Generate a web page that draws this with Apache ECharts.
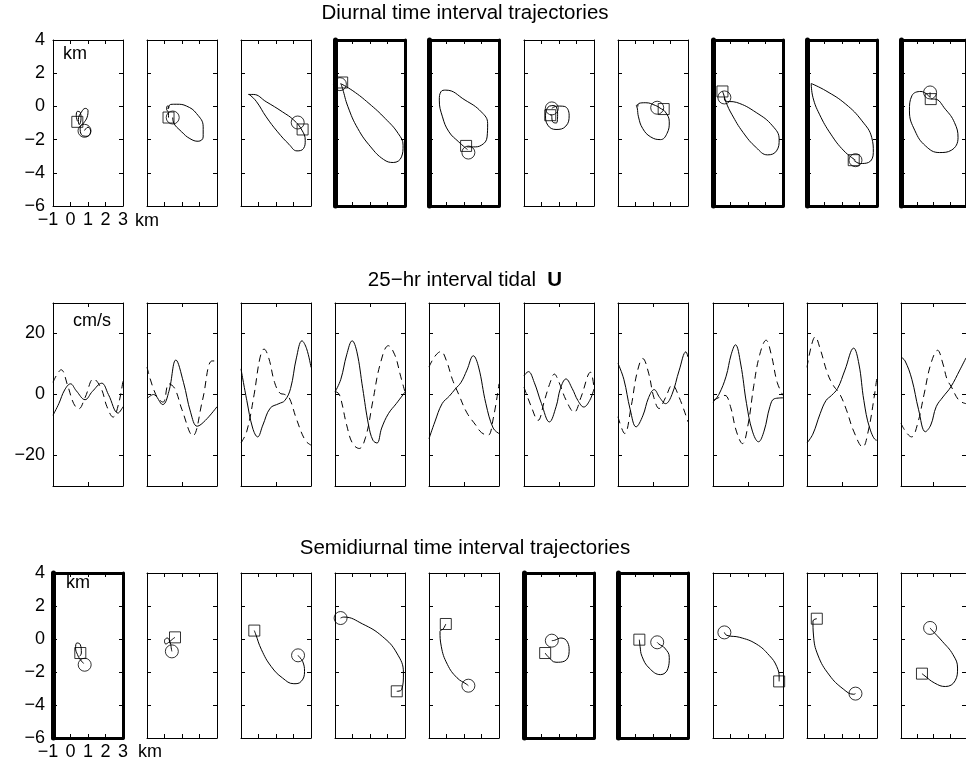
<!DOCTYPE html>
<html><head><meta charset="utf-8">
<script src="https://cdn.jsdelivr.net/npm/echarts@6/dist/echarts.min.js"></script>
<style>html,body{margin:0;padding:0;background:#fff}#c{width:966px;height:770px}</style>
</head><body><div id="c"></div>
<script>
// ---------------- DATA ----------------
const trajXTicks = [-1, 0, 1, 2, 3];
const trajYTicks = [-6, -4, -2, 0, 2, 4];
const tidalYTicks = [-20, 0, 20];

// Diurnal trajectories (km): paths, start circles, end squares
const diurnalPaths = [
  [[0.40,-0.90],[0.33,-0.55],[0.40,-0.30],[0.55,-0.35],[0.60,-0.75],[0.50,-1.10],[0.45,-0.80],[0.62,-0.35],[0.85,-0.12],[1.00,-0.25],[0.95,-0.65],[0.75,-1.00],[0.55,-1.25],[0.62,-1.70],[0.95,-1.80],[1.15,-1.50],[1.00,-1.25],[0.80,-1.45]],
  [[0.23,-0.67],[0.22,-0.35],[0.12,-0.18],[0.16,0.02],[0.26,-0.02],[0.20,-0.15],[0.35,0.12],[0.70,0.13],[1.26,0.02],[1.83,-0.43],[2.21,-1.23],[2.21,-1.84],[1.92,-2.10],[1.45,-1.94],[0.98,-1.53],[0.51,-0.95],[0.47,-0.67]],
  [[-0.57,0.72],[-0.30,0.72],[0.44,0.28],[1.37,-0.33],[2.02,-0.83],[2.48,-1.43],[2.67,-2.04],[2.57,-2.54],[2.20,-2.68],[1.74,-2.28],[1.09,-1.53],[0.44,-0.63],[-0.11,0.28],[-0.48,0.68],[-0.57,0.72]],
  [[-0.69,1.38],[0.02,0.94],[0.94,0.18],[1.87,-0.73],[2.61,-1.63],[2.89,-2.34],[2.80,-3.04],[2.33,-3.38],[1.78,-3.20],[1.04,-2.44],[0.30,-1.33],[-0.26,-0.02],[-0.57,1.08],[-0.66,1.35]],
  [[1.16,-2.44],[1.53,-2.44],[1.99,-2.34],[2.32,-1.84],[2.35,-1.03],[1.99,-0.33],[1.06,0.38],[-0.04,0.98],[-0.32,0.88],[-0.41,0.38],[-0.23,-0.63],[0.14,-1.53],[0.70,-2.14],[1.20,-2.60]],
  [[0.59,-0.12],[0.90,0.02],[1.30,0.00],[1.58,-0.53],[1.39,-1.19],[0.83,-1.39],[0.36,-1.13],[0.23,-0.53],[0.46,0.02],[0.72,0.05],[0.92,-0.40],[0.85,-1.00],[0.65,-0.95],[0.56,-0.50],[0.50,-0.53]],
  [[0.13,-0.02],[0.19,0.18],[0.59,0.22],[1.15,0.05],[1.40,-0.10],[1.70,-0.33],[1.93,-0.93],[1.80,-1.63],[1.43,-2.00],[0.87,-1.84],[0.41,-1.33],[0.17,-0.63],[0.10,-0.10],[0.05,0.05],[0.15,0.10]],
  [[-0.35,0.54],[-0.31,0.34],[0.35,0.24],[1.47,-0.37],[2.40,-1.17],[2.78,-1.98],[2.63,-2.68],[2.12,-2.92],[1.47,-2.48],[0.72,-1.57],[0.07,-0.47],[-0.25,0.24],[-0.40,0.75],[-0.46,0.90]],
  [[1.67,-3.24],[2.05,-3.44],[2.51,-3.38],[2.79,-2.78],[2.70,-1.88],[2.14,-0.87],[1.21,0.14],[0.08,0.94],[-0.76,1.38],[-0.66,0.54],[-0.29,-0.47],[0.36,-1.67],[1.11,-2.68],[1.77,-3.24]],
  [[0.79,0.84],[0.79,0.54],[0.23,0.90],[-0.33,0.64],[-0.48,-0.27],[-0.14,-1.47],[0.51,-2.38],[1.36,-2.78],[2.10,-2.64],[2.51,-1.88],[2.29,-0.97],[1.73,-0.17],[1.07,0.44],[0.83,0.44]]
];
const diurnalCircles = [[0.80,-1.47],[0.47,-0.67],[2.24,-0.97],[-0.72,1.34],[1.25,-2.78],[0.59,-0.12],[1.24,-0.08],[-0.35,0.54],[1.77,-3.24],[0.79,0.84]];
const diurnalSquares = [[0.39,-0.93],[0.23,-0.67],[2.52,-1.39],[-0.59,1.44],[1.12,-2.38],[0.50,-0.53],[1.61,-0.16],[-0.46,0.90],[1.67,-3.24],[0.83,0.44]];

// Semidiurnal trajectories (km)
const semiPaths = [
  [[0.76,-1.49],[0.56,-1.25],[0.40,-0.95],[0.29,-0.55],[0.37,-0.24],[0.56,-0.34],[0.62,-0.85],[0.52,-1.05]],
  [[0.60,0.10],[0.47,0.00],[0.29,-0.16],[0.07,-0.30],[0.00,-0.10],[0.16,0.06],[0.33,-0.24],[0.40,-0.65],[0.42,-0.75]],
  [[-0.24,0.51],[-0.17,0.32],[0.17,-0.65],[0.72,-1.66],[1.37,-2.36],[2.02,-2.71],[2.44,-2.57],[2.63,-1.96],[2.52,-1.35],[2.30,-1.05],[2.26,-0.99]],
  [[-0.68,1.27],[-0.50,1.33],[0.58,0.91],[1.70,0.16],[2.53,-0.85],[2.91,-2.06],[2.81,-3.07],[2.53,-3.17]],
  [[-0.04,0.91],[-0.19,0.61],[-0.37,0.46],[-0.30,-0.44],[0.05,-1.54],[0.60,-2.35],[1.16,-2.75],[1.25,-2.83]],
  [[0.59,-0.10],[0.74,-0.08],[1.11,0.06],[1.49,-0.20],[1.58,-0.75],[1.30,-1.35],[0.83,-1.41],[0.36,-1.05],[0.21,-0.85]],
  [[0.22,-0.04],[0.26,-0.44],[0.37,-1.05],[0.78,-1.76],[1.43,-2.16],[1.85,-1.80],[1.93,-1.11],[1.67,-0.55],[1.33,-0.30],[1.24,-0.20]],
  [[-0.35,0.40],[-0.21,0.22],[0.53,0.10],[1.47,-0.30],[2.21,-0.99],[2.64,-1.66],[2.78,-2.37],[2.78,-2.57]],
  [[-0.44,1.23],[-0.66,1.09],[-0.63,0.24],[-0.38,-0.97],[0.27,-2.18],[1.07,-3.03],[1.67,-3.35],[1.77,-3.31]],
  [[0.79,0.67],[0.89,0.55],[1.54,-0.14],[2.20,-0.95],[2.48,-1.76],[2.33,-2.53],[1.73,-2.88],[1.07,-2.67],[0.42,-2.20],[0.29,-2.10]]
];
const semiCircles = [[0.81,-1.56],[0.42,-0.75],[2.26,-0.99],[-0.68,1.27],[1.25,-2.83],[0.59,-0.10],[1.24,-0.20],[-0.35,0.40],[1.77,-3.31],[0.79,0.67]];
const semiSquares = [[0.56,-0.85],[0.60,0.10],[-0.24,0.51],[2.53,-3.17],[-0.04,0.91],[0.21,-0.85],[0.22,-0.04],[2.78,-2.57],[-0.44,1.23],[0.29,-2.10]];

// 25-hr interval tidal U (cm/s) vs hour: [hour, value]
const tidalSolid = [
  [[0,-6.8],[2,-3],[4,1.5],[6,3.5],[8,1.2],[11,-1.7],[13.5,1],[16.7,3.7],[19,0],[22.3,-6.1],[24,-4]],
  [[0,-1.4],[2.2,0],[5.4,-3.3],[7.5,1],[9.9,11.3],[12.5,4],[15,-6],[17.2,-10.4],[20,-8.5],[24,-4]],
  [[0,8.4],[2,-2],[4,-11],[5.7,-13.9],[7.5,-10],[10,-4.5],[13,-3],[15,-2],[17,2],[19,12],[20.9,17.6],[22.5,15],[24,8.9]],
  [[0,0.8],[2,5],[4,13],[5.9,17.6],[7.5,14],[9.5,2],[11.5,-10],[13,-15],[14.4,-15.9],[16,-11],[18.3,-6.3],[21,-3],[24,0.8]],
  [[0,-14.5],[2,-9],[4.5,-3],[7,-0.5],[9,1.8],[11,4],[13,8],[15.2,12.7],[17,9],[19.5,-3],[22,-11],[24,-12.8]],
  [[0,6.2],[1.5,7.5],[3.5,4],[6,-3],[8.7,-9],[11,-4],[12.5,2],[14.4,5.1],[16.5,2],[18.5,-2],[20.5,-4.1],[22.5,-2],[24,1.8]],
  [[0,10.2],[2,5],[4.2,-5],[6.2,-10.6],[8.5,-7],[10.5,-1],[12.4,1.6],[14.3,-1],[16.3,-3],[18.5,0],[21,8],[23.3,14],[24,12.3]],
  [[0,-2.5],[2,0],[4.5,6],[6.2,13],[7.7,16.3],[9.5,10],[11.5,-3],[13.5,-12],[15.6,-15.5],[17.5,-12],[19.5,-4],[21,-1.4],[24,-1.1]],
  [[0,-15.9],[2,-13],[4.5,-6.3],[6.5,-2],[8.4,-0.3],[10.5,2],[13,8],[16,15.2],[17.8,10],[19.5,-2],[21.5,-11],[23.9,-15],[24,-15]],
  [[0,12.3],[1.5,11],[4,5],[6.5,-5],[9,-12.2],[11,-10],[13,-4],[15.5,-0.8],[18.4,2.5],[21.7,8],[24,12]]
];
const tidalDashed = [
  [[0,4],[2.8,8.1],[5,3],[7.1,-3],[8.8,-4.7],[11,-1],[13.9,5.1],[16.5,2],[18.5,-4],[20.6,-7.4],[22.5,-3],[24,4.6]],
  [[0,9],[3,0],[5.5,-2.5],[7.5,3.5],[9.5,2],[12,-5],[15.7,-13.5],[19,-2],[22.3,11],[24,11]],
  [[0,-15.9],[2,-12],[4.5,0],[6.5,12],[7.9,14.9],[9.5,12],[11.5,4],[13.3,0.5],[15,0],[16.5,-1],[19,-8],[22,-15],[24,-16.6]],
  [[0,1],[1.5,0],[4,-10],[6,-16],[8.3,-17.7],[10.5,-14],[13,-2],[15.5,10],[18.3,16],[20.5,13],[22.5,6],[24,0.8]],
  [[0,9],[2,12.5],[4.1,14.1],[6,11],[8,5],[10.2,0],[13,-6],[16,-10],[18,-12.5],[20.2,-13.4],[22,-8],[24,3.5]],
  [[0,2.4],[2.5,-4],[4.8,-8.5],[7,-2],[9,4],[10.4,6.7],[12,4],[14.5,-2],[17.2,-5.8],[19.5,-1],[22.8,7.3],[24,2]],
  [[0,-7.3],[2.3,-12.8],[4.5,-4],[6.5,7],[8.5,11.8],[10.5,7],[12.3,-1],[14.1,-4.6],[16.3,-1],[18.6,3.1],[21,-1],[24,-9]],
  [[0,-2],[2,-1],[4.1,-0.3],[6,-4],[8,-12],[10.1,-16.1],[12,-10],[14,3],[16,13],[18.2,17.8],[20,13],[22,4],[24,-0.3]],
  [[0,8.9],[1.5,16],[2.8,18.9],[4.5,15],[7,7],[9,3],[11.2,0.2],[13.5,-5],[16,-12],[19.1,-17.2],[21,-12],[23,-1],[24,5.9]],
  [[0,-9.5],[2,-12.5],[3.9,-13.9],[6,-10],[8.5,0],[11,10],[13.5,14.5],[15.5,10],[17,5],[18.6,2.5],[21.4,-1.9],[24,-3]]
];

// ---------------- LAYOUT / STYLE ----------------
const FONT = '"Liberation Sans", Arial, Helvetica, sans-serif';
const panelLefts = [53,147,241,335,429,524,618,713,807,901];
const panelW = 70;
const rowTop = [40, 303, 573];
const rowH = [166, 183, 165];
const thickRows = [[0,0,0,1,1,0,0,1,1,1],[0,0,0,0,0,0,0,0,0,0],[1,0,0,0,0,1,1,0,0,0]];
const minus = v => String(v).replace('-', '\u2212');
const xLabelFmt = v => v === -1 ? '{m|\u22121}' : String(v);

const option = {
  animation: false,
  backgroundColor: '#fff',
  grid: [], xAxis: [], yAxis: [], series: [], graphic: []
};

function addPanel(row, i) {
  const g = option.grid.length;
  const thick = thickRows[row][i];
  const traj = row !== 1;
  option.grid.push({ left: panelLefts[i], top: rowTop[row], width: panelW, height: rowH[row], show: false });
  const lw = thick ? 3 : 1;
  const showLab = i === 0;
  const xBase = traj ? { min: -1, max: 3, interval: 1 } : { min: 0, max: 24, interval: 12 };
  const yBase = traj ? { min: -6, max: 4, interval: 2 } : { min: -30, max: 30 };
  const tickCommon = { show: true, inside: true, length: 4, lineStyle: { color: '#000', width: 1 } };
  ['bottom', 'top'].forEach((pos, k) => {
    option.xAxis.push(Object.assign({
      gridIndex: g, type: 'value', position: pos,
      axisLine: { show: true, onZero: false, lineStyle: { color: '#000', width: lw } },
      axisTick: tickCommon,
      axisLabel: { show: showLab && traj && k === 0, formatter: xLabelFmt, margin: 5, color: '#000', fontFamily: FONT, fontSize: 18,
        rich: { m: { padding: [0, 10, 0, 0], fontFamily: FONT, fontSize: 18, color: '#000' } } },
      splitLine: { show: false }
    }, xBase));
  });
  ['left', 'right'].forEach((pos, k) => {
    const thickLeft = k === 0 && thick;
    const ax = Object.assign({
      gridIndex: g, type: 'value', position: pos,
      axisLine: { show: true, onZero: false, lineStyle: { color: '#000', width: thickLeft ? 5 : lw } },
      axisTick: Object.assign({}, tickCommon),
      axisLabel: { show: showLab && k === 0, formatter: minus, margin: 8, color: '#000', fontFamily: FONT, fontSize: 18 },
      splitLine: { show: false }
    }, yBase);
    if (!traj) {
      ax.axisTick.customValues = tidalYTicks;
      ax.axisLabel.customValues = tidalYTicks;
    }
    option.yAxis.push(ax);
  });
  const xi = 2 * g, yi = 2 * g;
  if (traj) {
    const paths = row === 0 ? diurnalPaths : semiPaths;
    const circ = row === 0 ? diurnalCircles : semiCircles;
    const sq = row === 0 ? diurnalSquares : semiSquares;
    option.series.push({ type: 'line', xAxisIndex: xi, yAxisIndex: yi, data: paths[i], smooth: 0.45, showSymbol: false, lineStyle: { color: '#000', width: 1 }, clip: true });
    option.series.push({ type: 'scatter', xAxisIndex: xi, yAxisIndex: yi, data: [circ[i]], symbol: 'circle', symbolSize: 13, itemStyle: { color: 'rgba(0,0,0,0)', borderColor: '#000', borderWidth: 1 } });
    option.series.push({ type: 'scatter', xAxisIndex: xi, yAxisIndex: yi, data: [sq[i]], symbol: 'rect', symbolSize: 11, itemStyle: { color: 'rgba(0,0,0,0)', borderColor: '#000', borderWidth: 1 } });
  } else {
    option.series.push({ type: 'line', xAxisIndex: xi, yAxisIndex: yi, data: tidalSolid[i], smooth: 0.4, showSymbol: false, lineStyle: { color: '#000', width: 1 }, clip: true });
    option.series.push({ type: 'line', xAxisIndex: xi, yAxisIndex: yi, data: tidalDashed[i], smooth: 0.4, showSymbol: false, lineStyle: { color: '#000', width: 1, type: [7, 5] }, clip: true });
  }
}
for (let r = 0; r < 3; r++) for (let i = 0; i < 10; i++) addPanel(r, i);

const txt = (x, y, text, size, extra) => ({ type: 'text', x, y, silent: true, style: Object.assign({ text, fill: '#000', font: size + 'px ' + FONT }, extra || {}) });
option.graphic = [
  txt(465, 3, 'Diurnal time interval trajectories', 20.5, { textAlign: 'center' }),
  txt(465, 270, '25\u2212hr interval tidal  {b|U}', 20.5, { textAlign: 'center', rich: { b: { fontWeight: 'bold', fontSize: 20.5, fontFamily: FONT } } }),
  txt(465, 538, 'Semidiurnal time interval trajectories', 20.5, { textAlign: 'center' }),
  txt(63, 45, 'km', 18),
  txt(135, 212, 'km', 18),
  txt(73, 312, 'cm/s', 18),
  txt(66, 574, 'km', 18),
  txt(138, 743, 'km', 18)
];

const chart = echarts.init(document.getElementById('c'), null, { renderer: 'canvas' });
chart.setOption(option);
</script>
</body></html>
